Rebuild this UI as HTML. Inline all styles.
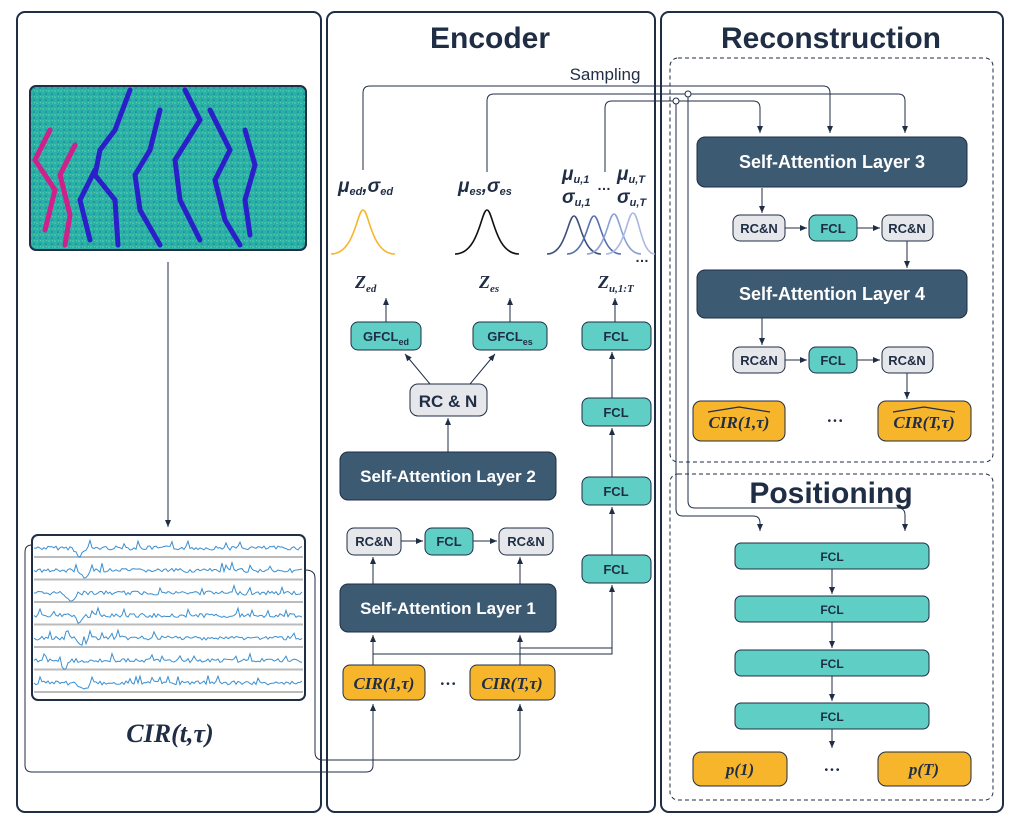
<!DOCTYPE html>
<html><head><meta charset="utf-8"><style>
body{margin:0;background:#fff;}
svg{display:block;font-family:"Liberation Sans",sans-serif;}
.b{font-weight:bold;}
</style></head><body>
<svg id="s" width="1020" height="826" viewBox="0 0 1020 826" xmlns="http://www.w3.org/2000/svg">
<defs>
<marker id="a" markerWidth="8" markerHeight="8" refX="7" refY="4" orient="auto" markerUnits="userSpaceOnUse"><path d="M0,1 L7,4 L0,7 Z" fill="#1f2d45"/></marker>
<pattern id="nz" width="6" height="6" patternUnits="userSpaceOnUse"><rect width="6" height="6" fill="#2ab0a6"/><rect x="0" y="0" width="2" height="2" fill="#3cc0b0"/><rect x="3" y="3" width="2" height="2" fill="#1e98a8"/><rect x="4" y="0" width="1" height="1" fill="#5cd0a8"/></pattern>
</defs>
<g fill="none" stroke="#1f2d45" stroke-width="2">
<rect x="17" y="12" width="304" height="800" rx="8"/>
<rect x="327" y="12" width="328" height="800" rx="8"/>
<rect x="661" y="12" width="342" height="800" rx="8"/>
</g>
<g fill="none" stroke="#1f2d45" stroke-width="1" stroke-dasharray="4,3">
<rect x="670" y="58" width="323" height="404" rx="8"/>
<rect x="670" y="474" width="323" height="326" rx="8"/>
</g>
<text x="490" y="48" font-size="30" class="b" fill="#1f2d45" text-anchor="middle">Encoder</text>
<text x="831" y="48" font-size="30" class="b" fill="#1f2d45" text-anchor="middle">Reconstruction</text>
<text x="831" y="503" font-size="30" class="b" fill="#1f2d45" text-anchor="middle">Positioning</text>
<text x="605" y="80" font-size="17" fill="#1f2d45" text-anchor="middle">Sampling</text>

<!-- heatmap -->
<rect x="30" y="86" width="276" height="164" rx="6" fill="url(#nz)" stroke="#1f2d45" stroke-width="2"/>
<g fill="none" stroke-width="5" stroke-linecap="round">
<path d="M130,90 L115,130 L100,150 L95,175 L115,200 L118,245" stroke="#2a1fc9"/>
<path d="M160,110 L150,150 L135,175 L140,210 L160,245" stroke="#2a1fc9"/>
<path d="M185,90 L200,120 L175,160 L180,200 L200,240" stroke="#2a1fc9"/>
<path d="M210,110 L230,150 L215,180 L225,220 L240,245" stroke="#2a1fc9"/>
<path d="M245,130 L255,165 L245,200 L250,235" stroke="#2a1fc9"/>
<path d="M95,170 L80,200 L90,240" stroke="#2a1fc9"/>
<path d="M50,130 L35,160 L55,190 L45,230" stroke="#d0208c"/>
<path d="M75,145 L60,175 L70,215 L65,245" stroke="#d0208c"/>
</g>
<line x1="168" y1="262" x2="168" y2="527" stroke="#1f2d45" marker-end="url(#a)"/>

<!-- CIR plot -->
<rect x="32" y="535" width="273" height="165" rx="6" fill="#fff" stroke="#1f2d45" stroke-width="2"/>
<g id="plot"></g>
<text x="170" y="742" font-size="26" font-family="Liberation Serif,serif" font-style="italic" font-weight="bold" fill="#1f2d45" text-anchor="middle">CIR(t,τ)</text>

<!-- connectors -->
<g fill="none" stroke="#1f2d45" stroke-width="1">
<path d="M32,545 Q25,545 25,552 L25,765 Q25,772 32,772 L366,772 Q373,772 373,765 L373,704" marker-end="url(#a)"/>
<path d="M305,570 Q315,570 315,578 L315,752 Q315,760 323,760 L513,760 Q520,760 520,752 L520,704" marker-end="url(#a)"/>
<line x1="373" y1="665" x2="373" y2="635" marker-end="url(#a)"/>
<line x1="520" y1="665" x2="520" y2="635" marker-end="url(#a)"/>
<path d="M373,654 L612,654 L612,585" marker-end="url(#a)"/>
<path d="M520,648 L612,648"/>
<line x1="520" y1="584" x2="520" y2="557" marker-end="url(#a)"/>
<line x1="373" y1="584" x2="373" y2="557" marker-end="url(#a)"/>
<line x1="401" y1="541" x2="423" y2="541" marker-end="url(#a)"/>
<line x1="473" y1="541" x2="497" y2="541" marker-end="url(#a)"/>
<line x1="448" y1="452" x2="448" y2="418" marker-end="url(#a)"/>
<line x1="430" y1="384" x2="405" y2="354" marker-end="url(#a)"/>
<line x1="470" y1="384" x2="495" y2="354" marker-end="url(#a)"/>
<line x1="612" y1="555" x2="612" y2="507" marker-end="url(#a)"/>
<line x1="612" y1="477" x2="612" y2="428" marker-end="url(#a)"/>
<line x1="612" y1="398" x2="612" y2="352" marker-end="url(#a)"/>
<line x1="386" y1="322" x2="386" y2="298" marker-end="url(#a)"/>
<line x1="510" y1="322" x2="510" y2="298" marker-end="url(#a)"/>
<line x1="615" y1="322" x2="615" y2="298" marker-end="url(#a)"/>
<path d="M363,170 L363,93 Q363,86 370,86 L823,86 Q830,86 830,93 L830,133" marker-end="url(#a)"/>
<path d="M487,172 L487,101 Q487,94 494,94 L898,94 Q905,94 905,101 L905,133" marker-end="url(#a)"/>
<path d="M605,172 L605,108 Q605,101 612,101 L753,101 Q760,101 760,108 L760,133" marker-end="url(#a)"/>
<path d="M688,93 L688,501 Q688,508 695,508 L898,508 Q905,508 905,515 L905,531" marker-end="url(#a)"/>
<path d="M676,101 L676,509 Q676,516 683,516 L753,516 Q760,516 760,523 L760,531" marker-end="url(#a)"/>
<circle cx="688" cy="94" r="3" fill="#fff"/>
<circle cx="676" cy="101" r="3" fill="#fff"/>
<line x1="762" y1="188" x2="762" y2="213" marker-end="url(#a)"/>
<line x1="785" y1="228" x2="807" y2="228" marker-end="url(#a)"/>
<line x1="857" y1="228" x2="880" y2="228" marker-end="url(#a)"/>
<line x1="907" y1="241" x2="907" y2="268" marker-end="url(#a)"/>
<line x1="762" y1="318" x2="762" y2="345" marker-end="url(#a)"/>
<line x1="785" y1="360" x2="807" y2="360" marker-end="url(#a)"/>
<line x1="857" y1="360" x2="880" y2="360" marker-end="url(#a)"/>
<line x1="907" y1="373" x2="907" y2="399" marker-end="url(#a)"/>
<line x1="832" y1="569" x2="832" y2="594" marker-end="url(#a)"/>
<line x1="832" y1="622" x2="832" y2="648" marker-end="url(#a)"/>
<line x1="832" y1="676" x2="832" y2="701" marker-end="url(#a)"/>
<line x1="832" y1="729" x2="832" y2="748" marker-end="url(#a)"/>
</g>

<g stroke="#1f2d45" stroke-width="1">
<rect x="340" y="452" width="216" height="48" rx="8" fill="#3d5a73"/>
<rect x="340" y="584" width="216" height="48" rx="8" fill="#3d5a73"/>
<rect x="697" y="137" width="270" height="50" rx="8" fill="#3d5a73"/>
<rect x="697" y="270" width="270" height="48" rx="8" fill="#3d5a73"/>
<rect x="347" y="528" width="54" height="27" rx="7" fill="#e5e7eb"/>
<rect x="425" y="528" width="48" height="27" rx="7" fill="#5fcfc6"/>
<rect x="499" y="528" width="54" height="27" rx="7" fill="#e5e7eb"/>
<rect x="410" y="384" width="77" height="32" rx="8" fill="#e5e7eb"/>
<rect x="351" y="322" width="70" height="28" rx="7" fill="#5fcfc6"/>
<rect x="473" y="322" width="74" height="28" rx="7" fill="#5fcfc6"/>
<rect x="582" y="322" width="69" height="28" rx="7" fill="#5fcfc6"/>
<rect x="582" y="398" width="69" height="28" rx="7" fill="#5fcfc6"/>
<rect x="582" y="477" width="69" height="28" rx="7" fill="#5fcfc6"/>
<rect x="582" y="555" width="69" height="28" rx="7" fill="#5fcfc6"/>
<rect x="343" y="665" width="82" height="35" rx="7" fill="#f7b52c"/>
<rect x="470" y="665" width="85" height="35" rx="7" fill="#f7b52c"/>
<rect x="733" y="215" width="52" height="26" rx="7" fill="#e5e7eb"/>
<rect x="809" y="215" width="48" height="26" rx="7" fill="#5fcfc6"/>
<rect x="882" y="215" width="51" height="26" rx="7" fill="#e5e7eb"/>
<rect x="733" y="347" width="52" height="26" rx="7" fill="#e5e7eb"/>
<rect x="809" y="347" width="48" height="26" rx="7" fill="#5fcfc6"/>
<rect x="882" y="347" width="51" height="26" rx="7" fill="#e5e7eb"/>
<rect x="693" y="401" width="92" height="40" rx="8" fill="#f7b52c"/>
<rect x="878" y="401" width="93" height="40" rx="8" fill="#f7b52c"/>
<rect x="735" y="543" width="194" height="26" rx="6" fill="#5fcfc6"/>
<rect x="735" y="596" width="194" height="26" rx="6" fill="#5fcfc6"/>
<rect x="735" y="650" width="194" height="26" rx="6" fill="#5fcfc6"/>
<rect x="735" y="703" width="194" height="26" rx="6" fill="#5fcfc6"/>
<rect x="693" y="752" width="94" height="34" rx="8" fill="#f7b52c"/>
<rect x="878" y="752" width="93" height="34" rx="8" fill="#f7b52c"/>
</g>
<g class="b" text-anchor="middle" fill="#fff" font-size="17">
<text x="448" y="482">Self-Attention Layer 2</text>
<text x="448" y="614">Self-Attention Layer 1</text>
<text x="832" y="168" font-size="18">Self-Attention Layer 3</text>
<text x="832" y="300" font-size="18">Self-Attention Layer 4</text>
</g>
<g class="b" text-anchor="middle" fill="#1f2d45" font-size="13">
<text x="374" y="546">RC&amp;N</text><text x="449" y="546">FCL</text><text x="526" y="546">RC&amp;N</text>
<text x="448" y="407" font-size="17">RC &amp; N</text>
<text x="386" y="341">GFCL<tspan font-size="9" dy="4">ed</tspan></text>
<text x="510" y="341">GFCL<tspan font-size="9" dy="4">es</tspan></text>
<text x="616" y="341">FCL</text><text x="616" y="417">FCL</text><text x="616" y="496">FCL</text><text x="616" y="574">FCL</text>
<text x="759" y="233">RC&amp;N</text><text x="833" y="233">FCL</text><text x="907" y="233">RC&amp;N</text>
<text x="759" y="365">RC&amp;N</text><text x="833" y="365">FCL</text><text x="907" y="365">RC&amp;N</text>
<text x="832" y="561" font-size="12">FCL</text><text x="832" y="614" font-size="12">FCL</text>
<text x="832" y="668" font-size="12">FCL</text><text x="832" y="721" font-size="12">FCL</text>
</g>
<g font-family="Liberation Serif,serif" font-style="italic" font-weight="bold" fill="#1f2d45" text-anchor="middle" font-size="17">
<text x="384" y="689">CIR(1,τ)</text><text x="512" y="689">CIR(T,τ)</text>
<text x="739" y="428">CIR(1,τ)</text><text x="924" y="428">CIR(T,τ)</text>
<text x="740" y="775">p(1)</text><text x="924" y="775">p(T)</text>
<text x="448" y="689" font-style="normal">···</text>
<text x="835" y="426" font-style="normal">···</text>
<text x="832" y="775" font-style="normal">···</text>
</g>
<g fill="none" stroke="#1f2d45" stroke-width="1.2">
<path d="M708,412 L739,407 L770,412"/><path d="M893,412 L924,407 L955,412"/>
</g>
<g class="b" fill="#1f2d45" font-size="19" font-style="italic">
<text x="338" y="192">μ<tspan font-size="11" dy="3">ed</tspan><tspan dy="-3">,σ</tspan><tspan font-size="11" dy="3">ed</tspan></text>
<text x="458" y="192">μ<tspan font-size="11" dy="3">es</tspan><tspan dy="-3">,σ</tspan><tspan font-size="11" dy="3">es</tspan></text>
<text x="562" y="180">μ<tspan font-size="11" dy="3">u,1</tspan></text>
<text x="562" y="203">σ<tspan font-size="11" dy="3">u,1</tspan></text>
<text x="617" y="180">μ<tspan font-size="11" dy="3">u,T</tspan></text>
<text x="617" y="203">σ<tspan font-size="11" dy="3">u,T</tspan></text>
<text x="597" y="190" font-size="14" font-style="normal">…</text>
<text x="635" y="262" font-size="14" font-style="normal">…</text>
</g>
<g font-family="Liberation Serif,serif" font-style="italic" font-weight="bold" fill="#1f2d45" font-size="18">
<text x="355" y="288">Z<tspan font-size="11" dy="4">ed</tspan></text>
<text x="479" y="288">Z<tspan font-size="11" dy="4">es</tspan></text>
<text x="598" y="288">Z<tspan font-size="11" dy="4">u,1:T</tspan></text>
</g>
<g fill="none" stroke-width="1.6">
<path d="M331,254 C355,254 357,210 363,210 C369,210 371,254 395,254" stroke="#f7b52c"/>
<path d="M455,254 C479,254 481,210 487,210 C493,210 495,254 519,254" stroke="#111"/>
<path d="M547,254 C566,254 568,216 574,216 C580,216 582,254 601,254" stroke="#3d4f7a"/>
<path d="M567,254 C586,254 588,216 594,216 C600,216 602,254 621,254" stroke="#5a70b0"/>
<path d="M587,254 C606,254 608,214 614,214 C620,214 622,254 641,254" stroke="#8a9fd6"/>
<path d="M606,254 C625,254 627,213 633,213 C639,213 641,254 655,254" stroke="#aab8e3"/>
</g>
</svg>
<script>
(function(){var g=document.getElementById('plot'),h='';var seed=7;function r(){seed=(seed*9301+49297)%233280;return seed/233280;}
for(var i=0;i<7;i++){var y0=548+i*22.5;h+='<line x1="34" x2="303" y1="'+(y0+9)+'" y2="'+(y0+9)+'" stroke="#bbb" stroke-width="2"/>';var d='M34,'+y0;var dip=60+r()*40;for(var x=36;x<303;x+=2){var v=(r()-0.5)*4;if(r()<0.06)v-=6;if(Math.abs(x-dip)<8)v+=8-Math.abs(x-dip);d+=' L'+x+','+(y0+v).toFixed(1);}h+='<path d="'+d+'" fill="none" stroke="#3a8fd0" stroke-width="1"/>';}
g.innerHTML=h;})();
</script>
</body></html>
